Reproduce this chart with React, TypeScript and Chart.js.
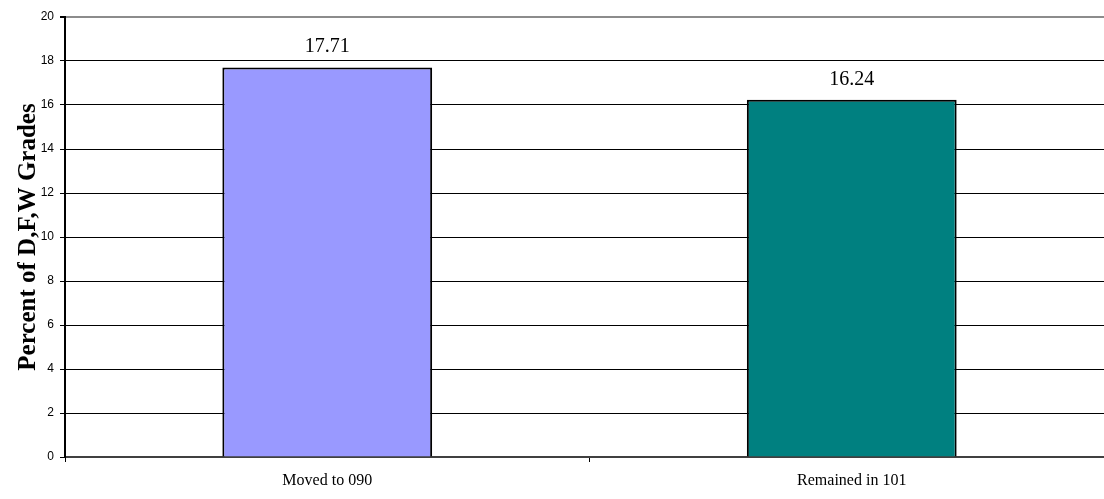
import React, { useEffect, useRef } from "react";
import { Chart, registerables } from "chart.js";

Chart.register(...registerables);

const categories = ["Moved to 090", "Remained in 101"];
const values = [17.71, 16.24];
const barColors = ["#9999FF", "#008080"];
const yTitle = "Percent of D,F,W Grades";

const SERIF = "'Liberation Serif', 'Times New Roman', serif";
const SANS = "'Liberation Sans', Arial, sans-serif";

const valueLabels = {
  id: "valueLabels",
  afterDatasetsDraw(chart: any) {
    const ctx = chart.ctx;
    const meta = chart.getDatasetMeta(0);
    ctx.save();
    ctx.font = `20px ${SERIF}`;
    ctx.fillStyle = "#000";
    ctx.textAlign = "center";
    ctx.textBaseline = "alphabetic";
    meta.data.forEach((bar: any, i: number) => {
      ctx.fillText(values[i].toFixed(2), bar.x, bar.y - 15);
    });
    ctx.restore();
  },
};

export default function App() {
  const ref = useRef<HTMLCanvasElement>(null);
  useEffect(() => {
    if (!ref.current) return;
    const chart = new Chart(ref.current, {
      type: "bar",
      data: {
        labels: categories,
        datasets: [
          {
            data: values,
            backgroundColor: barColors,
            borderColor: "#000",
            borderWidth: 2,
            categoryPercentage: 1,
            barPercentage: 0.4,
          },
        ],
      },
      options: {
        responsive: false,
        animation: false,
        layout: { padding: { top: 17, right: 2, left: 0, bottom: 0 } },
        plugins: { legend: { display: false }, tooltip: { enabled: false } },
        scales: {
          x: {
            grid: {
              offset: true,
              drawOnChartArea: false,
              drawTicks: true,
              tickLength: 5,
              color: "#000",
            },
            border: { color: "#404040", width: 2 },
            ticks: {
              color: "#000",
              padding: 9,
              font: { family: SERIF, size: 16 },
            },
            afterFit: (s: any) => {
              s.height = 42;
            },
          },
          y: {
            min: 0,
            max: 20,
            ticks: {
              stepSize: 2,
              color: "#000",
              padding: 6,
              font: { family: SANS, size: 12 },
            },
            grid: {
              color: (c: any) => (c.tick && c.tick.value === 20 ? "#8c8c8c" : "#000"),
              lineWidth: (c: any) => (c.tick && c.tick.value === 20 ? 2 : 1),
              tickColor: "#000",
              tickLength: 5,
            },
            border: { color: "#000", width: 2 },
            title: {
              display: true,
              text: yTitle,
              color: "#000",
              padding: { top: 14, bottom: 0 },
              font: { family: SERIF, size: 25, weight: "bold" },
            },
            afterFit: (s: any) => {
              s.width = 65;
            },
          },
        },
      },
      plugins: [valueLabels],
    });
    return () => chart.destroy();
  }, []);
  return (
    <div
      style={{
        position: "absolute",
        top: 0,
        left: 0,
        width: 1104,
        height: 499,
        overflow: "hidden",
        background: "#fff",
      }}
    >
      <canvas ref={ref} width={1116} height={499} />
    </div>
  );
}
